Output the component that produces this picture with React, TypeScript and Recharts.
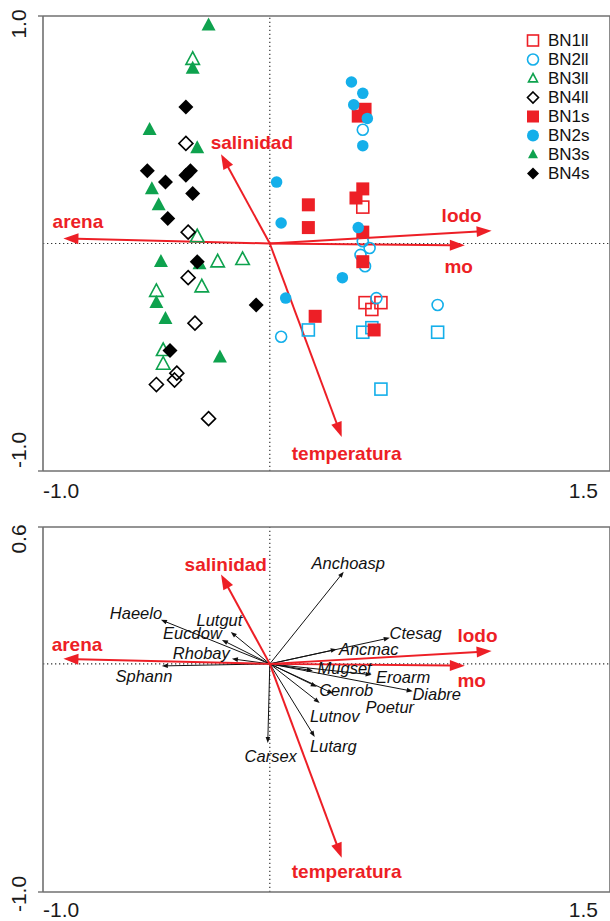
import React from 'react';
import { ScatterChart, Scatter, XAxis, YAxis, ReferenceLine } from 'recharts';

// sample scores (axis 1, axis 2)
const bn1ll = [
  { x: 0.41, y: 0.16 }, { x: 0.42, y: -0.26 }, { x: 0.49, y: -0.26 }, { x: 0.45, y: -0.29 },
];
const bn2ll = [
  { x: 0.41, y: 0.5 }, { x: 0.41, y: 0.01 }, { x: 0.44, y: -0.02 }, { x: 0.4, y: -0.05 },
  { x: 0.42, y: -0.1 }, { x: 0.47, y: -0.24 }, { x: 0.74, y: -0.27 }, { x: 0.05, y: -0.41 },
];
const bn3ll = [
  { x: -0.34, y: 0.81 }, { x: -0.32, y: 0.03 }, { x: -0.23, y: -0.08 }, { x: -0.12, y: -0.07 },
  { x: -0.3, y: -0.19 }, { x: -0.5, y: -0.21 }, { x: -0.47, y: -0.47 }, { x: -0.47, y: -0.53 },
];
const bn4ll = [
  { x: -0.37, y: 0.44 }, { x: -0.36, y: 0.05 }, { x: -0.36, y: -0.15 }, { x: -0.33, y: -0.35 },
  { x: -0.41, y: -0.57 }, { x: -0.42, y: -0.6 }, { x: -0.5, y: -0.62 }, { x: -0.27, y: -0.77 },
];
const bn1s = [
  { x: 0.42, y: 0.59 }, { x: 0.39, y: 0.56 }, { x: 0.17, y: 0.17 }, { x: 0.17, y: 0.07 },
  { x: 0.41, y: 0.24 }, { x: 0.38, y: 0.2 }, { x: 0.41, y: 0.05 }, { x: 0.41, y: -0.08 },
  { x: 0.2, y: -0.32 }, { x: 0.46, y: -0.38 },
];
const bn2s = [
  { x: 0.36, y: 0.71 }, { x: 0.41, y: 0.66 }, { x: 0.37, y: 0.61 }, { x: 0.43, y: 0.55 },
  { x: 0.41, y: 0.43 }, { x: 0.39, y: 0.07 }, { x: 0.32, y: -0.15 }, { x: 0.03, y: 0.27 },
  { x: 0.05, y: 0.09 }, { x: 0.07, y: -0.24 },
];
const bn3s = [
  { x: -0.27, y: 0.96 }, { x: -0.34, y: 0.77 }, { x: -0.53, y: 0.5 }, { x: -0.32, y: 0.42 },
  { x: -0.52, y: 0.24 }, { x: -0.49, y: 0.17 }, { x: -0.48, y: -0.08 }, { x: -0.5, y: -0.26 },
  { x: -0.46, y: -0.33 }, { x: -0.22, y: -0.5 }, { x: -0.31, y: -0.09 },
];
const bn4s = [
  { x: -0.37, y: 0.6 }, { x: -0.54, y: 0.32 }, { x: -0.35, y: 0.32 }, { x: -0.37, y: 0.3 },
  { x: -0.46, y: 0.27 }, { x: -0.34, y: 0.22 }, { x: -0.45, y: 0.11 }, { x: -0.32, y: -0.08 },
  { x: -0.06, y: -0.27 }, { x: -0.44, y: -0.47 },
];
// blue open squares that show in the plot but not in the legend
const blueSquares = [
  { x: 0.17, y: -0.38 }, { x: 0.41, y: -0.39 }, { x: 0.45, y: -0.37 }, { x: 0.74, y: -0.39 }, { x: 0.49, y: -0.64 },
];

// environmental vectors (same in both panels)
const envNames = ['arena', 'salinidad', 'lodo', 'mo', 'temperatura'];
const envX = [-0.91, -0.215, 0.978, 0.86, 0.317];
const envY = [0.022, 0.392, 0.056, -0.008, -0.85];
// where the names sit (data units)
const envLabelTopX = [-0.846, -0.079, 0.846, 0.833, 0.339];
const envLabelTopY = [0.095, 0.446, 0.125, -0.099, -0.921];
const envLabelBotX = [-0.85, -0.194, 0.916, 0.89, 0.339];
const envLabelBotY = [0.083, 0.434, 0.123, -0.075, -0.912];

// species vectors
const spNames = ['Haeelo', 'Lutgut', 'Eucdow', 'Rhobay', 'Sphann', 'Carsex', 'Anchoasp', 'Ctesag',
  'Ancmac', 'Mugset', 'Eroarm', 'Diabre', 'Cenrob', 'Poetur', 'Lutnov', 'Lutarg'];
const spX = [-0.48, -0.172, -0.211, -0.167, -0.476, -0.009, 0.326, 0.529,
  0.295, 0.19, 0.449, 0.63, 0.207, 0.28, 0.22, 0.198];
const spY = [0.193, 0.14, 0.105, 0.022, -0.009, -0.347, 0.404, 0.114,
  0.064, -0.03, -0.048, -0.12, -0.1, -0.13, -0.171, -0.32];
const spLabelX = [-0.59, -0.222, -0.341, -0.302, -0.555, 0.004, 0.346, 0.643,
  0.436, 0.33, 0.588, 0.736, 0.337, 0.529, 0.286, 0.28];
const spLabelY = [0.224, 0.193, 0.136, 0.048, -0.053, -0.404, 0.443, 0.136,
  0.066, -0.018, -0.057, -0.132, -0.114, -0.189, -0.228, -0.36];

const xTicks = [-1, 1.5];
const yTicksTop = [-1, 1];
const yTicksBottom = [-1, 0.6];

const RED = '#ed1f26';
const BLUE = '#14afea';
const GREEN = '#0ea24e';
const FRAME = '#707070';
const FONT = '"Liberation Sans", Arial, Helvetica, sans-serif';

type Kind = 'square' | 'circle' | 'triangle' | 'diamond';

function markerEl(kind: Kind, cx: number, cy: number, s: number, color: string, filled: boolean) {
  const fill = filled ? color : 'none';
  const sw = filled ? 0 : 1.6;
  if (kind === 'square') {
    return <rect x={cx - s / 2} y={cy - s / 2} width={s} height={s} fill={fill} stroke={color} strokeWidth={sw} />;
  }
  if (kind === 'circle') {
    return <circle cx={cx} cy={cy} r={s / 2} fill={fill} stroke={color} strokeWidth={sw} />;
  }
  if (kind === 'triangle') {
    const pts = `${cx},${cy - s * 0.55} ${cx - s / 2},${cy + s * 0.38} ${cx + s / 2},${cy + s * 0.38}`;
    return <polygon points={pts} fill={fill} stroke={color} strokeWidth={sw} strokeLinejoin="miter" />;
  }
  const pts = `${cx},${cy - s / 2} ${cx + s / 2},${cy} ${cx},${cy + s / 2} ${cx - s / 2},${cy}`;
  return <polygon points={pts} fill={fill} stroke={color} strokeWidth={sw} />;
}

const shape = (kind: Kind, s: number, color: string, filled: boolean) => (p: any) =>
  markerEl(kind, p.cx, p.cy, s, color, filled);

const arrow = (color: string, width: number, headLen: number, headHalf: number) => (p: any) => {
  const { x1, y1, x2, y2 } = p;
  const dx = x2 - x1;
  const dy = y2 - y1;
  const len = Math.hypot(dx, dy) || 1;
  const ux = dx / len;
  const uy = dy / len;
  const bx = x2 - ux * headLen;
  const by = y2 - uy * headLen;
  const px = -uy * headHalf;
  const py = ux * headHalf;
  return (
    <g>
      <line x1={x1} y1={y1} x2={bx + ux} y2={by + uy} stroke={color} strokeWidth={width} />
      <polygon points={`${x2},${y2} ${bx + px},${by + py} ${bx - px},${by - py}`} fill={color} />
    </g>
  );
};

const textShape = (color: string, size: number, weight: string, italic: boolean) => (p: any) => (
  <text
    x={p.cx}
    y={p.cy}
    textAnchor="middle"
    dominantBaseline="central"
    fill={color}
    fontSize={size}
    fontWeight={weight}
    fontStyle={italic ? 'italic' : 'normal'}
    fontFamily={FONT}
  >
    {p.payload.name}
  </text>
);

const XTick = ({ x, y, payload, dy }: any) => {
  const left = payload.value <= -1;
  return (
    <text x={left ? x : x - 2} y={y + dy} textAnchor={left ? 'start' : 'end'} dominantBaseline="central"
      fontSize={21} fill="#1a1a1a" fontFamily={FONT}>
      {payload.value.toFixed(1)}
    </text>
  );
};

const YTick = ({ x, y, payload, shift }: any) => {
  const tx = x - 20;
  const ty = y + (shift[String(payload.value)] || 0);
  return (
    <text x={tx} y={ty} transform={`rotate(-90 ${tx} ${ty})`} textAnchor="middle" dominantBaseline="central"
      fontSize={21} fill="#1a1a1a" fontFamily={FONT}>
      {payload.value.toFixed(1)}
    </text>
  );
};

const envArrow = arrow(RED, 2, 15, 5.5);
const spArrow = arrow('#111', 1, 6, 2.3);

function envLabels(lx: number[], ly: number[]) {
  return envNames.map((name, i) => ({ name, x: lx[i], y: ly[i] }));
}
const speciesLabels = spNames.map((name, i) => ({ name, x: spLabelX[i], y: spLabelY[i] }));

function frameBits(yMax: number) {
  return [
    <ReferenceLine key="fx0" x={0} stroke="#333" strokeWidth={1.2} strokeDasharray="1.3 2.7" ifOverflow="visible" />,
    <ReferenceLine key="fy0" y={0} stroke="#333" strokeWidth={1.2} strokeDasharray="1.3 2.7" ifOverflow="visible" />,
    <ReferenceLine key="ftop" y={yMax} stroke={FRAME} strokeWidth={1.6} ifOverflow="visible" />,
    <ReferenceLine key="fright" x={1.5} stroke={FRAME} strokeWidth={1.6} ifOverflow="visible" />,
  ];
}

function envArrows() {
  return envNames.map((n, i) => (
    <ReferenceLine key={'env' + n} segment={[{ x: 0, y: 0 }, { x: envX[i], y: envY[i] }]}
      ifOverflow="visible" shape={envArrow} />
  ));
}

const legendItems: { label: string; kind: Kind; color: string; filled: boolean; s: number }[] = [
  { label: 'BN1ll', kind: 'square', color: RED, filled: false, s: 11 },
  { label: 'BN2ll', kind: 'circle', color: BLUE, filled: false, s: 11 },
  { label: 'BN3ll', kind: 'triangle', color: GREEN, filled: false, s: 9 },
  { label: 'BN4ll', kind: 'diamond', color: '#000', filled: false, s: 11 },
  { label: 'BN1s', kind: 'square', color: RED, filled: true, s: 12 },
  { label: 'BN2s', kind: 'circle', color: BLUE, filled: true, s: 12 },
  { label: 'BN3s', kind: 'triangle', color: GREEN, filled: true, s: 10 },
  { label: 'BN4s', kind: 'diamond', color: '#000', filled: true, s: 12 },
];

function SampleLegend() {
  return (
    <div style={{ position: 'absolute', left: 524, top: 30.5, fontFamily: FONT }}>
      {legendItems.map(it => (
        <div key={it.label} style={{ display: 'flex', alignItems: 'center', height: 19 }}>
          <svg width={18} height={19}>{markerEl(it.kind, 9, 9.5, it.s, it.color, it.filled)}</svg>
          <span style={{ marginLeft: 6, fontSize: 17, color: '#111', lineHeight: '19px' }}>{it.label}</span>
        </div>
      ))}
    </div>
  );
}

export default function App() {
  return (
    <div style={{ position: 'absolute', left: 0, top: 0, width: 610, height: 921, background: '#fff', overflow: 'hidden' }}>
      <div style={{ position: 'absolute', left: 0, top: 0 }}>
        <ScatterChart width={610} height={505} margin={{ top: 16, right: 0, left: 0, bottom: 0 }}>
          <XAxis type="number" dataKey="x" domain={[-1, 1.5]} ticks={xTicks} allowDataOverflow
            height={34} tickSize={0} tickMargin={0} tickLine={false}
            axisLine={{ stroke: FRAME, strokeWidth: 1.6 }} tick={<XTick dy={19} />} />
          <YAxis type="number" dataKey="y" domain={[-1, 1]} ticks={yTicksTop} allowDataOverflow
            width={43} tickSize={5} tickMargin={0} tickLine={{ stroke: FRAME, strokeWidth: 1.4 }}
            axisLine={{ stroke: FRAME, strokeWidth: 1.6 }} tick={<YTick shift={{ '1': 8, '-1': -21 }} />} />
          {frameBits(1)}
          <Scatter data={blueSquares} shape={shape('square', 12, BLUE, false)} isAnimationActive={false} />
          <Scatter data={bn1ll} shape={shape('square', 12, RED, false)} isAnimationActive={false} />
          <Scatter data={bn2ll} shape={shape('circle', 11, BLUE, false)} isAnimationActive={false} />
          <Scatter data={bn3ll} shape={shape('triangle', 13.5, GREEN, false)} isAnimationActive={false} />
          <Scatter data={bn4ll} shape={shape('diamond', 14, '#000', false)} isAnimationActive={false} />
          <Scatter data={bn1s} shape={shape('square', 13, RED, true)} isAnimationActive={false} />
          <Scatter data={bn2s} shape={shape('circle', 11.5, BLUE, true)} isAnimationActive={false} />
          <Scatter data={bn3s} shape={shape('triangle', 14, GREEN, true)} isAnimationActive={false} />
          <Scatter data={bn4s} shape={shape('diamond', 15, '#000', true)} isAnimationActive={false} />
          {envArrows()}
          <Scatter data={envLabels(envLabelTopX, envLabelTopY)} shape={textShape(RED, 19, 'bold', false)}
            isAnimationActive={false} />
        </ScatterChart>
        <SampleLegend />
      </div>
      <div style={{ position: 'absolute', left: 0, top: 505 }}>
        <ScatterChart width={610} height={416} margin={{ top: 22, right: 0, left: 0, bottom: 0 }}>
          <XAxis type="number" dataKey="x" domain={[-1, 1.5]} ticks={xTicks} allowDataOverflow
            height={29} tickSize={0} tickMargin={0} tickLine={false}
            axisLine={{ stroke: FRAME, strokeWidth: 1.6 }} tick={<XTick dy={17} />} />
          <YAxis type="number" dataKey="y" domain={[-1, 0.6]} ticks={yTicksBottom} allowDataOverflow
            width={43} tickSize={5} tickMargin={0} tickLine={{ stroke: FRAME, strokeWidth: 1.4 }}
            axisLine={{ stroke: FRAME, strokeWidth: 1.6 }} tick={<YTick shift={{ '0.6': 12, '-1': 2 }} />} />
          {frameBits(0.6)}
          {spNames.map((n, i) => (
            <ReferenceLine key={'sp' + n} segment={[{ x: 0, y: 0 }, { x: spX[i], y: spY[i] }]}
              ifOverflow="visible" shape={spArrow} />
          ))}
          {envArrows()}
          <Scatter data={speciesLabels} shape={textShape('#111', 16.5, 'normal', true)} isAnimationActive={false} />
          <Scatter data={envLabels(envLabelBotX, envLabelBotY)} shape={textShape(RED, 19, 'bold', false)}
            isAnimationActive={false} />
        </ScatterChart>
      </div>
    </div>
  );
}
